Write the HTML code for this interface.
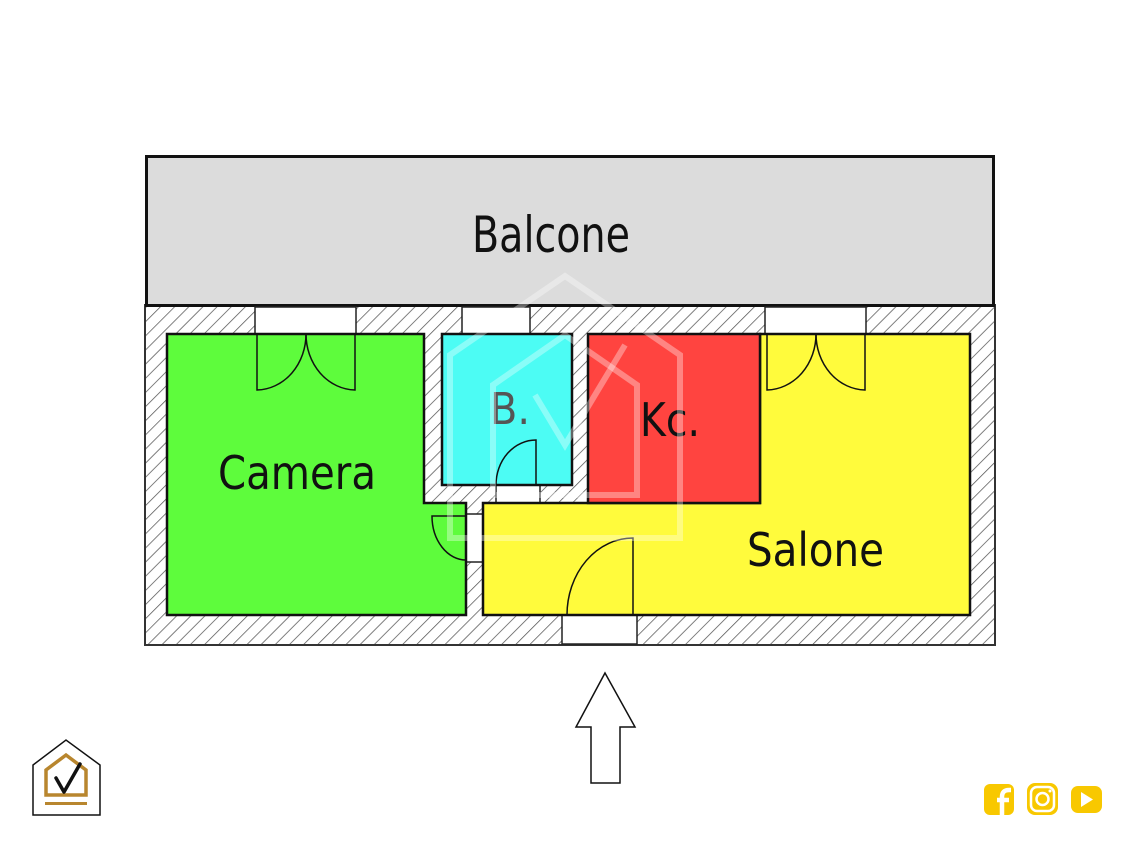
<!DOCTYPE html>
<html><head><meta charset="utf-8"><style>
html,body{margin:0;padding:0;background:#fff;}
svg{display:block;}
text{font-family:"DejaVu Sans","Liberation Sans",sans-serif;}
</style></head><body>
<svg width="1133" height="850" viewBox="0 0 1133 850" xmlns="http://www.w3.org/2000/svg">
<defs>
<pattern id="h" width="10" height="10" patternUnits="userSpaceOnUse" patternTransform="rotate(45)">
<rect width="10" height="10" fill="#fff"/>
<line x1="0" y1="0" x2="0" y2="10" stroke="#555" stroke-width="1.5"/>
</pattern>
</defs>
<rect x="0" y="0" width="1133" height="850" fill="#fff"/>
<rect x="145" y="305" width="850" height="340" fill="url(#h)" stroke="#333" stroke-width="2"/>
<rect x="146.5" y="156.5" width="847" height="149" fill="#dcdcdc" stroke="#111" stroke-width="3"/>
<text x="472" y="252" font-size="50" textLength="158" lengthAdjust="spacingAndGlyphs" fill="#111">Balcone</text>
<rect x="255" y="307" width="101" height="27" fill="#fff" stroke="#222" stroke-width="1.5"/>
<rect x="462" y="307" width="68" height="27" fill="#fff" stroke="#222" stroke-width="1.5"/>
<rect x="765" y="307" width="101" height="27" fill="#fff" stroke="#222" stroke-width="1.5"/>
<rect x="562" y="615" width="75" height="29" fill="#fff" stroke="#222" stroke-width="1.5"/>
<rect x="496" y="485" width="44" height="18" fill="#fff" stroke="#222" stroke-width="1.5"/>
<rect x="466" y="514" width="17" height="48" fill="#fff" stroke="#222" stroke-width="1.5"/>
<polygon points="167,334 424,334 424,503 466,503 466,615 167,615" fill="#5efc3c" stroke="#111" stroke-width="2.5"/>
<polygon points="483,503 760,503 760,334 970,334 970,615 483,615" fill="#fffb3c" stroke="#111" stroke-width="2.5"/>
<rect x="442" y="334" width="130" height="151" fill="#4cfcf4" stroke="#111" stroke-width="2.5"/>
<rect x="588" y="334" width="172" height="169" fill="#ff4440" stroke="#111" stroke-width="2.5"/>
<g fill="none" stroke="#111" stroke-width="1.5">
<path d="M257,334 V390 A50,56 0 0 0 306,334"/>
<path d="M355,334 V390 A50,56 0 0 1 306,334"/>
<path d="M767,334 V390 A50,56 0 0 0 816,334"/>
<path d="M865,334 V390 A50,56 0 0 1 816,334"/>
<path d="M536,485 V440 A40,45 0 0 0 496,485"/>
<path d="M633,615 V538 A66,77 0 0 0 567,615"/>
<path d="M466,516 H432 A34,44 0 0 0 466,560"/>
</g>
<text x="218" y="489" font-size="46" textLength="158" lengthAdjust="spacingAndGlyphs" fill="#111">Camera</text>
<text x="490" y="424" font-size="44" textLength="40" lengthAdjust="spacingAndGlyphs" fill="#555">B.</text>
<text x="640" y="436" font-size="46" textLength="60" lengthAdjust="spacingAndGlyphs" fill="#111">Kc.</text>
<text x="747" y="566" font-size="46" textLength="137" lengthAdjust="spacingAndGlyphs" fill="#111">Salone</text>
<g fill="none" stroke="#fff" stroke-opacity="0.35" stroke-width="6">
<polygon points="450,538 450,355 565,276 680,355 680,538"/>
<polygon points="493,495 493,385 565,335 637,385 637,495"/>
<path d="M535,395 L565,445 L625,345"/>
</g>
<polygon points="605,673 635,727 620,727 620,783 591,783 591,727 576,727" fill="#fff" stroke="#111" stroke-width="1.5"/>
<g>
<polygon points="33,815 33,765 66,740 100,765 100,815" fill="#fff" stroke="#111" stroke-width="1.5"/>
<polygon points="46,795 46,770 66,755 86,770 86,795" fill="none" stroke="#b8862e" stroke-width="3.5"/>
<rect x="45" y="802" width="42" height="3" fill="#b8862e"/>
<path d="M56,778 L64,792 L80,764" fill="none" stroke="#111" stroke-width="3.5" stroke-linecap="round" stroke-linejoin="round"/>
</g>
<g fill="#f8c800">
<rect x="984" y="784" width="30" height="31" rx="6"/>
<rect x="1027" y="783" width="31" height="32" rx="8"/>
<rect x="1071" y="786" width="31" height="27" rx="7"/>
</g>
<path d="M1002,815 V797 Q1002,790 1009,790 H1011 M997,800 H1009" fill="none" stroke="#fff" stroke-width="4.5"/>
<rect x="1031" y="787" width="23" height="24" rx="6" fill="none" stroke="#fff" stroke-width="2.5"/>
<circle cx="1042.5" cy="799" r="6" fill="none" stroke="#fff" stroke-width="2.5"/>
<circle cx="1050" cy="791" r="1.5" fill="#fff"/>
<polygon points="1081,792 1093,799.5 1081,807" fill="#fff"/>
</svg>
</body></html>
